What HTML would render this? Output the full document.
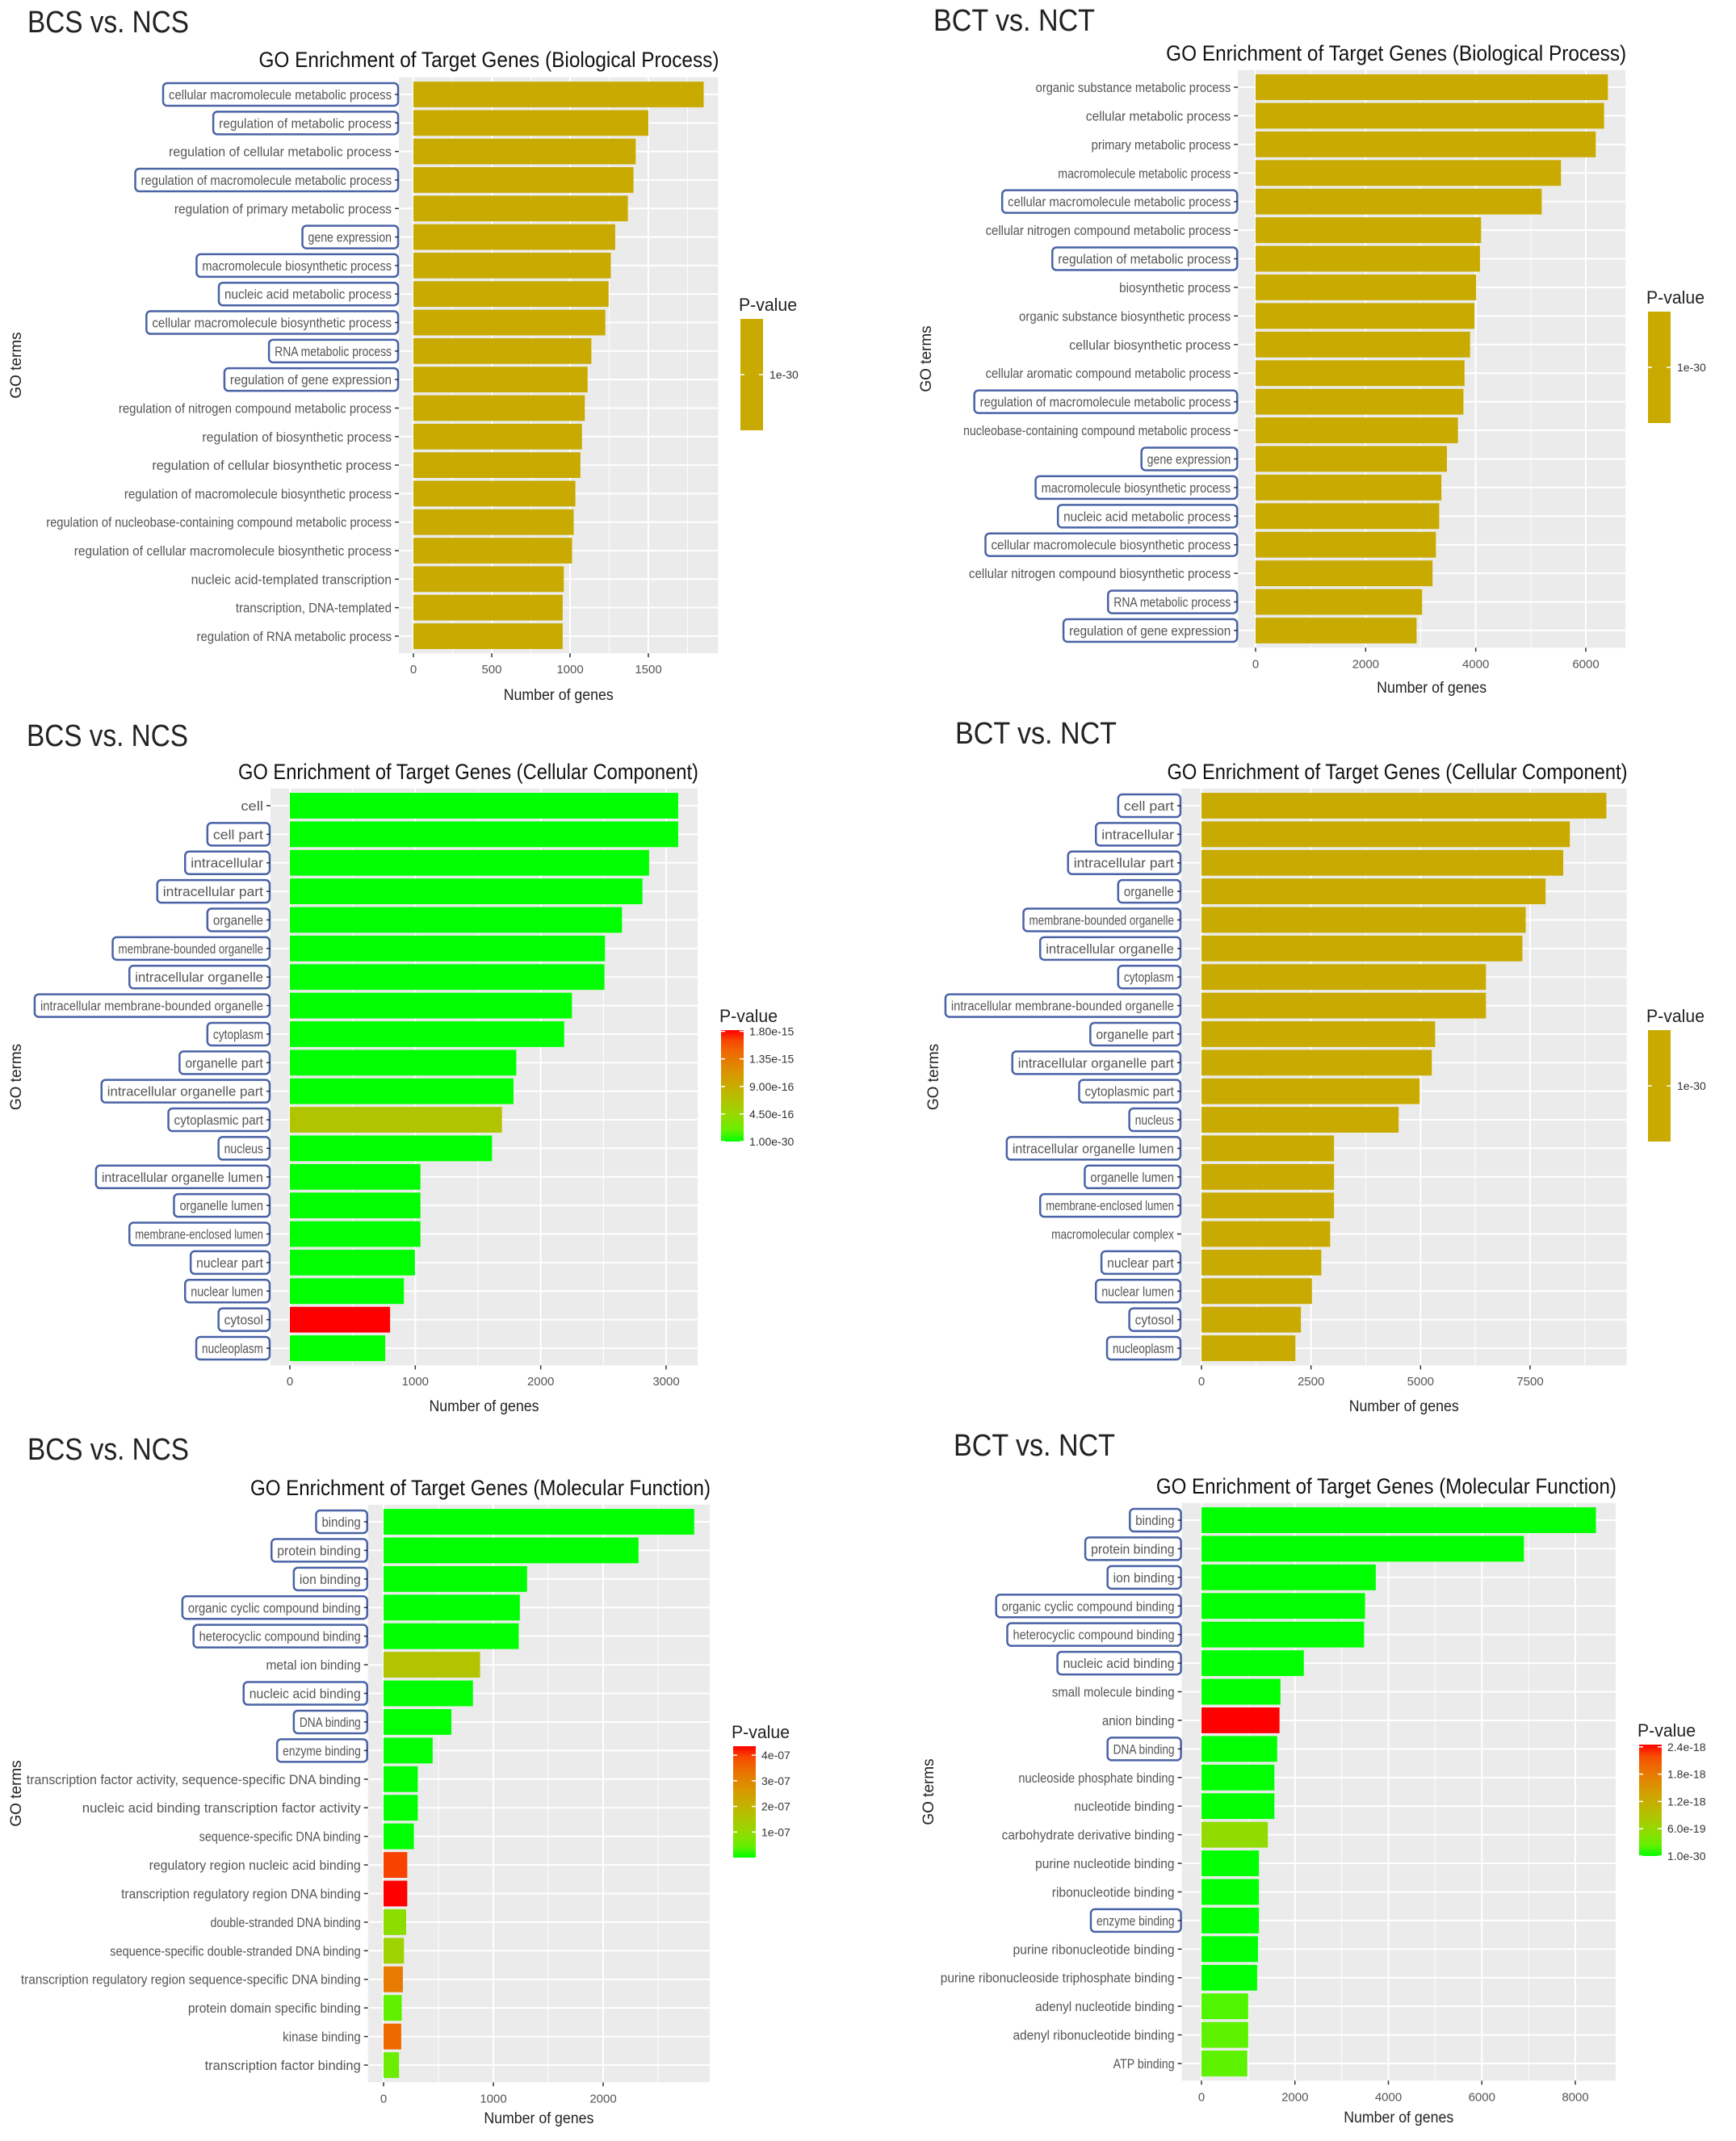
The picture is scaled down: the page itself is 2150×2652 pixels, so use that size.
<!DOCTYPE html>
<html><head><meta charset="utf-8"><title>GO Enrichment</title>
<style>html,body{margin:0;padding:0;background:#fff}svg{display:block}</style></head>
<body>
<svg id="fig" xmlns="http://www.w3.org/2000/svg" width="2150" height="2652" viewBox="0 0 2150 2652">
<rect x="0" y="0" width="2150" height="2652" fill="#ffffff"/>
</svg>
<script>
// ---------- Panel 1: BCS vs NCS, Biological Process ----------
const terms1 = ["cellular macromolecule metabolic process","regulation of metabolic process","regulation of cellular metabolic process","regulation of macromolecule metabolic process","regulation of primary metabolic process","gene expression","macromolecule biosynthetic process","nucleic acid metabolic process","cellular macromolecule biosynthetic process","RNA metabolic process","regulation of gene expression","regulation of nitrogen compound metabolic process","regulation of biosynthetic process","regulation of cellular biosynthetic process","regulation of macromolecule biosynthetic process","regulation of nucleobase-containing compound metabolic process","regulation of cellular macromolecule biosynthetic process","nucleic acid-templated transcription","transcription, DNA-templated","regulation of RNA metabolic process"];
const values1 = [1853,1500,1419,1405,1369,1288,1260,1246,1225,1136,1112,1094,1076,1066,1034,1023,1013,960,953,953];
const boxed1 = [1,1,0,1,0,1,1,1,1,1,1,0,0,0,0,0,0,0,0,0];
const ticks1 = [0,500,1000,1500];

// ---------- Panel 2: BCT vs NCT, Biological Process ----------
const terms2 = ["organic substance metabolic process","cellular metabolic process","primary metabolic process","macromolecule metabolic process","cellular macromolecule metabolic process","cellular nitrogen compound metabolic process","regulation of metabolic process","biosynthetic process","organic substance biosynthetic process","cellular biosynthetic process","cellular aromatic compound metabolic process","regulation of macromolecule metabolic process","nucleobase-containing compound metabolic process","gene expression","macromolecule biosynthetic process","nucleic acid metabolic process","cellular macromolecule biosynthetic process","cellular nitrogen compound biosynthetic process","RNA metabolic process","regulation of gene expression"];
const values2 = [6401,6331,6180,5549,5199,4097,4077,4007,3977,3897,3796,3776,3676,3476,3376,3336,3276,3215,3025,2925];
const boxed2 = [0,0,0,0,1,0,1,0,0,0,0,1,0,1,1,1,1,0,1,1];
const ticks2 = [0,2000,4000,6000];

// ---------- Panel 3: BCS vs NCS, Cellular Component ----------
const terms3 = ["cell","cell part","intracellular","intracellular part","organelle","membrane-bounded organelle","intracellular organelle","intracellular membrane-bounded organelle","cytoplasm","organelle part","intracellular organelle part","cytoplasmic part","nucleus","intracellular organelle lumen","organelle lumen","membrane-enclosed lumen","nuclear part","nuclear lumen","cytosol","nucleoplasm"];
const values3 = [3096,3096,2864,2811,2648,2512,2508,2249,2187,1805,1783,1691,1612,1041,1041,1041,997,909,799,760];
const pvals3 = [1e-30,1e-30,1e-30,1e-30,1e-30,1e-30,1e-30,1e-30,1e-30,1e-30,1e-30,0.65e-15,1e-30,1e-30,1e-30,1e-30,1e-30,1e-30,1.82e-15,1e-30];
const boxed3 = [0,1,1,1,1,1,1,1,1,1,1,1,1,1,1,1,1,1,1,1];
const ticks3 = [0,1000,2000,3000];
const legendVals3 = [1.8e-15,1.35e-15,9.0e-16,4.5e-16,1e-30];
const legendText3 = ["1.80e-15","1.35e-15","9.00e-16","4.50e-16","1.00e-30"];

// ---------- Panel 4: BCT vs NCT, Cellular Component ----------
const terms4 = ["cell part","intracellular","intracellular part","organelle","membrane-bounded organelle","intracellular organelle","cytoplasm","intracellular membrane-bounded organelle","organelle part","intracellular organelle part","cytoplasmic part","nucleus","intracellular organelle lumen","organelle lumen","membrane-enclosed lumen","macromolecular complex","nuclear part","nuclear lumen","cytosol","nucleoplasm"];
const values4 = [9240,8407,8256,7853,7399,7324,6492,6492,5332,5256,4979,4500,3025,3025,3025,2937,2735,2521,2269,2143];
const boxed4 = [1,1,1,1,1,1,1,1,1,1,1,1,1,1,1,0,1,1,1,1];
const ticks4 = [0,2500,5000,7500];

// ---------- Panel 5: BCS vs NCS, Molecular Function ----------
const terms5 = ["binding","protein binding","ion binding","organic cyclic compound binding","heterocyclic compound binding","metal ion binding","nucleic acid binding","DNA binding","enzyme binding","transcription factor activity, sequence-specific DNA binding","nucleic acid binding transcription factor activity","sequence-specific DNA binding","regulatory region nucleic acid binding","transcription regulatory region DNA binding","double-stranded DNA binding","sequence-specific double-stranded DNA binding","transcription regulatory region sequence-specific DNA binding","protein domain specific binding","kinase binding","transcription factor binding"];
const values5 = [2829,2322,1307,1241,1231,879,814,618,447,312,312,276,216,216,206,186,176,166,161,141];
const pvals5 = [1e-30,1e-30,1e-30,1e-30,1e-30,1.6e-7,1e-30,1e-30,1e-30,1e-30,1e-30,1e-30,4.0e-7,4.35e-7,0.9e-7,1.2e-7,3.2e-7,0.4e-7,3.5e-7,0.5e-7];
const boxed5 = [1,1,1,1,1,0,1,1,1,0,0,0,0,0,0,0,0,0,0,0];
const ticks5 = [0,1000,2000];
const legendVals5 = [4e-7,3e-7,2e-7,1e-7];
const legendText5 = ["4e-07","3e-07","2e-07","1e-07"];

// ---------- Panel 6: BCT vs NCT, Molecular Function ----------
const terms6 = ["binding","protein binding","ion binding","organic cyclic compound binding","heterocyclic compound binding","nucleic acid binding","small molecule binding","anion binding","DNA binding","nucleoside phosphate binding","nucleotide binding","carbohydrate derivative binding","purine nucleotide binding","ribonucleotide binding","enzyme binding","purine ribonucleotide binding","purine ribonucleoside triphosphate binding","adenyl nucleotide binding","adenyl ribonucleotide binding","ATP binding"];
const values6 = [8440,6900,3730,3500,3480,2190,1690,1670,1620,1560,1560,1420,1230,1230,1230,1210,1190,1000,1000,980];
const pvals6 = [1e-30,1e-30,1e-30,1e-30,1e-30,1e-30,1e-30,2.45e-18,1e-30,1e-30,1e-30,0.55e-18,1e-30,1e-30,1e-30,1e-30,1e-30,0.15e-18,0.2e-18,0.2e-18];
const boxed6 = [1,1,1,1,1,1,0,0,1,0,0,0,0,0,1,0,0,0,0,0];
const ticks6 = [0,2000,4000,6000,8000];
const legendVals6 = [2.4e-18,1.8e-18,1.2e-18,6.0e-19,1e-30];
const legendText6 = ["2.4e-18","1.8e-18","1.2e-18","6.0e-19","1.0e-30"];

const NS = "http://www.w3.org/2000/svg";
const svg = document.getElementById('fig');
function mk(tag, attrs, parent, text){
  const e = document.createElementNS(NS, tag);
  for (const k in attrs) e.setAttribute(k, attrs[k]);
  if (text !== undefined) e.textContent = text;
  (parent || svg).appendChild(e);
  return e;
}
function s2l(c){c/=255;return c<=0.04045?c/12.92:Math.pow((c+0.055)/1.055,2.4);}
function l2s(c){c=c<=0.0031308?12.92*c:1.055*Math.pow(c,1/2.4)-0.055;return Math.max(0,Math.min(255,Math.round(c*255)));}
function toLab(r,g,b){r=s2l(r);g=s2l(g);b=s2l(b);
  let X=(0.4124*r+0.3576*g+0.1805*b)/0.95047,Y=(0.2126*r+0.7152*g+0.0722*b),Z=(0.0193*r+0.1192*g+0.9505*b)/1.08883;
  const f=t=>t>0.008856?Math.cbrt(t):7.787*t+16/116;
  const fx=f(X),fy=f(Y),fz=f(Z);return [116*fy-16,500*(fx-fy),200*(fy-fz)];}
function fromLab(L,a,b){const fy=(L+16)/116,fx=fy+a/500,fz=fy-b/200;
  const fi=t=>t*t*t>0.008856?t*t*t:(t-16/116)/7.787;
  const X=fi(fx)*0.95047,Y=fi(fy),Z=fi(fz)*1.08883;
  const r=3.2406*X-1.5372*Y-0.4986*Z,g=-0.9689*X+1.8758*Y+0.0415*Z,bb=0.0557*X-0.2040*Y+1.0570*Z;
  return 'rgb('+l2s(r)+','+l2s(g)+','+l2s(bb)+')';}
const LG=toLab(0,255,0), LR=toLab(255,0,0);
function grad(t){t=Math.max(0,Math.min(1,t));return fromLab(LG[0]+(LR[0]-LG[0])*t,LG[1]+(LR[1]-LG[1])*t,LG[2]+(LR[2]-LG[2])*t);}

const GOLD = "#c8aa00";

function panel(p){
  const g = mk('g', {}, svg);
  
  
  const n = p.terms.length;
  const maxV = Math.max.apply(null, p.values);
  const xs = v => p.zeroX + v * p.scale;
  const step = (p.lastY - p.firstY) / (n - 1);
  const ys = i => p.firstY + i * step;
  const bgL = xs(-0.05 * maxV), bgR = xs(1.05 * maxV);
  const bgT = p.firstY - 0.6 * step, bgB = p.lastY + 0.6 * step;

  const hd = mk('text', {x:p.headX, y:p.headY+13, 'font-family':'Liberation Sans, sans-serif','font-size':38, fill:'#222', textLength:200, lengthAdjust:'spacingAndGlyphs'}, g, p.header);
  
  
  const tt = mk('text', {x:bgR+1, y:p.titleY+9, 'text-anchor':'end','font-family':'Liberation Sans, sans-serif','font-size':27, fill:'#111', textLength:570, lengthAdjust:'spacingAndGlyphs'}, g, p.title);
  
  

  const bg = mk('rect', {x:bgL, y:bgT, width:bgR-bgL, height:bgB-bgT, fill:'#ebebeb'}, g);
  
  
  const tstep = p.ticks[1] - p.ticks[0];
  for (let v = -tstep/2; v <= 1.05*maxV; v += tstep/2){
    const x = xs(v); if (x < bgL || x > bgR) continue;
    const major = Math.abs((v / tstep) - Math.round(v / tstep)) < 1e-6;
    const gl = mk('line', {x1:x, x2:x, y1:bgT, y2:bgB, stroke:'#fff', 'stroke-width': major?2:1}, g);
    
    
  }
  for (let i = 0; i < n; i++){
    const hl = mk('line', {x1:bgL, x2:bgR, y1:ys(i), y2:ys(i), stroke:'#fff', 'stroke-width':2}, g);
    
    
  }
  const bh = step * 0.9;
  for (let i = 0; i < n; i++){
    const y = ys(i);
    let col = GOLD;
    if (p.pvals) col = grad(p.pvals[i] / p.pmax);
    const b = mk('rect', {x:xs(0), y:y-bh/2, width:xs(p.values[i])-xs(0), height:bh, fill:col}, g);
    
    
    const tl = p.terms[i].length * 6.9;
    const tx = bgL - 9;
    if (p.boxed[i]){
      const bx = mk('rect', {x:tx-tl-7, y:y-14, width:tl+7+8, height:28, rx:5, fill:'none', stroke:'#4a63a6', 'stroke-width':2.5}, g);
      
      
    }
    const tk = mk('line', {x1:bgL-5, x2:bgL, y1:y, y2:y, stroke:'#333', 'stroke-width':1.5}, g);
    
    
    const lb = mk('text', {x:tx, y:y+6, 'text-anchor':'end','font-family':'Liberation Sans, sans-serif','font-size':17, fill:'#555', textLength:tl, lengthAdjust:'spacingAndGlyphs'}, g, p.terms[i]);
    
    
  }
  p.ticks.forEach(v => {
    const x = xs(v);
    const tk = mk('line', {x1:x, x2:x, y1:bgB, y2:bgB+5, stroke:'#333', 'stroke-width':1.5}, g);
    
    
    const tl = mk('text', {x:x, y:bgB+25, 'text-anchor':'middle','font-family':'Liberation Sans, sans-serif','font-size':15, fill:'#555'}, g, String(v));
    
    
  });
  const xt = mk('text', {x:(bgL+bgR)/2, y:p.axisTitleY+7, 'text-anchor':'middle','font-family':'Liberation Sans, sans-serif','font-size':19, fill:'#222', textLength:136, lengthAdjust:'spacingAndGlyphs'}, g, 'Number of genes');
  
  
  const yt = mk('text', {x:0, y:0, transform:'translate('+(p.goX+6)+','+((bgT+bgB)/2)+') rotate(-90)', 'text-anchor':'middle','font-family':'Liberation Sans, sans-serif','font-size':19, fill:'#222'}, g, 'GO terms');
  
  

  const L = p.leg;
  const lt = mk('text', {x:L.x-2, y:L.top-10, 'font-family':'Liberation Sans, sans-serif','font-size':22, fill:'#222', textLength:72, lengthAdjust:'spacingAndGlyphs'}, g, 'P-value');
  
  
  if (p.pvals){
    const gid = 'lg' + p.id;
    const defs = mk('defs', {}, g);
    const lg = mk('linearGradient', {id:gid, x1:0, y1:1, x2:0, y2:0}, defs);
    for (let k = 0; k <= 10; k++) mk('stop', {offset:(k/10), 'stop-color':grad(k/10)}, lg);
    const cb = mk('rect', {x:L.x, y:L.top, width:28, height:L.bottom-L.top, fill:'url(#'+gid+')'}, g);
    
    
    p.legVals.forEach((v, k) => {
      const y = L.bottom - (v / p.pmax) * (L.bottom - L.top);
      mk('line', {x1:L.x, x2:L.x+5, y1:y, y2:y, stroke:'#fff', 'stroke-width':1.5}, g);
      mk('line', {x1:L.x+23, x2:L.x+28, y1:y, y2:y, stroke:'#fff', 'stroke-width':1.5}, g);
      const t = mk('text', {x:L.x+35, y:y+5, 'font-family':'Liberation Sans, sans-serif','font-size':14, fill:'#333'}, g, p.legText[k]);
      
      
    });
  } else {
    const cb = mk('rect', {x:L.x, y:L.top, width:28, height:L.bottom-L.top, fill:GOLD}, g);
    
    
    const y = (L.top + L.bottom) / 2;
    mk('line', {x1:L.x, x2:L.x+5, y1:y, y2:y, stroke:'#fff', 'stroke-width':1.5}, g);
    mk('line', {x1:L.x+23, x2:L.x+28, y1:y, y2:y, stroke:'#fff', 'stroke-width':1.5}, g);
    const t = mk('text', {x:L.x+36, y:y+5, 'font-family':'Liberation Sans, sans-serif','font-size':14, fill:'#333'}, g, '1e-30');
    
    
  }
}

panel({id:1, name:'bcs-biological-process-chart', header:'BCS vs. NCS', title:'GO Enrichment of Target Genes (Biological Process)',
  terms:terms1, values:values1, boxed:boxed1, ticks:ticks1,
  zeroX:512, scale:291/1500, firstY:117, lastY:788, headX:34, headY:27, titleY:74, axisTitleY:860, goX:20,
  leg:{x:917, top:395, bottom:533}});
panel({id:2, name:'bct-biological-process-chart', header:'BCT vs. NCT', title:'GO Enrichment of Target Genes (Biological Process)',
  terms:terms2, values:values2, boxed:boxed2, ticks:ticks2,
  zeroX:1555, scale:409/6000, firstY:108, lastY:781, headX:1156, headY:25, titleY:66, axisTitleY:851, goX:1147,
  leg:{x:2041, top:386, bottom:524}});
panel({id:3, name:'bcs-cellular-component-chart', header:'BCS vs. NCS', title:'GO Enrichment of Target Genes (Cellular Component)',
  terms:terms3, values:values3, boxed:boxed3, ticks:ticks3, pvals:pvals3, pmax:1.82e-15, legVals:legendVals3, legText:legendText3,
  zeroX:359, scale:466/3000, firstY:998, lastY:1670, headX:33, headY:911, titleY:956, axisTitleY:1741, goX:20,
  leg:{x:893, top:1276, bottom:1414}});
panel({id:4, name:'bct-cellular-component-chart', header:'BCT vs. NCT', title:'GO Enrichment of Target Genes (Cellular Component)',
  terms:terms4, values:values4, boxed:boxed4, ticks:ticks4,
  zeroX:1488, scale:407/7500, firstY:998, lastY:1670, headX:1183, headY:908, titleY:956, axisTitleY:1741, goX:1156,
  leg:{x:2041, top:1276, bottom:1414}});
panel({id:5, name:'bcs-molecular-function-chart', header:'BCS vs. NCS', title:'GO Enrichment of Target Genes (Molecular Function)',
  terms:terms5, values:values5, boxed:boxed5, ticks:ticks5, pvals:pvals5, pmax:4.35e-7, legVals:legendVals5, legText:legendText5,
  zeroX:475, scale:272/2000, firstY:1885, lastY:2558, headX:34, headY:1795, titleY:1843, axisTitleY:2623, goX:20,
  leg:{x:908, top:2163, bottom:2301}});
panel({id:6, name:'bct-molecular-function-chart', header:'BCT vs. NCT', title:'GO Enrichment of Target Genes (Molecular Function)',
  terms:terms6, values:values6, boxed:boxed6, ticks:ticks6, pvals:pvals6, pmax:2.45e-18, legVals:legendVals6, legText:legendText6,
  zeroX:1488, scale:463/8000, firstY:1883, lastY:2556, headX:1181, headY:1790, titleY:1841, axisTitleY:2622, goX:1150,
  leg:{x:2030, top:2161, bottom:2299}});
</script>
</body></html>
